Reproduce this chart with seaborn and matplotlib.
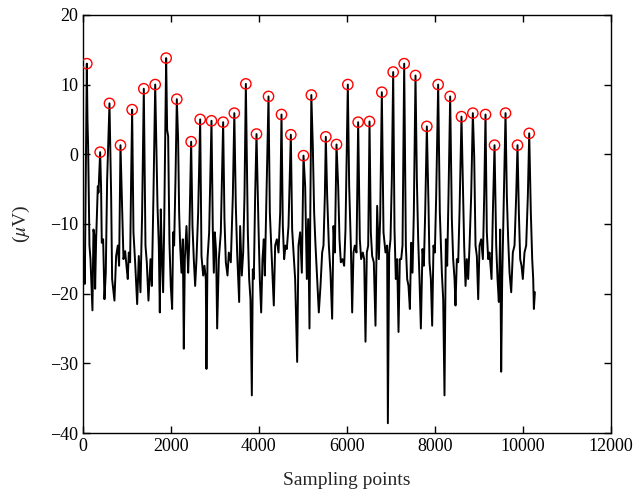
import numpy as np
import pandas as pd
import matplotlib
matplotlib.use("Agg")
import matplotlib.pyplot as plt
import seaborn as sns

# Detected R-peaks (sampling point, value in µV)
peak_x = [91, 394, 606, 856, 1121, 1386, 1645, 1894, 2136, 2462, 2667, 2924, 3189, 3443,
          3705, 3947, 4220, 4515, 4727, 5015, 5193, 5522, 5765, 6022, 6257, 6515, 6795,
          7053, 7303, 7560, 7818, 8075, 8348, 8605, 8863, 9151, 9356, 9606, 9878, 10144]
peak_y = [13.0, 0.3, 7.3, 1.3, 6.4, 9.4, 10.0, 13.8, 7.9, 1.8, 5.0, 4.8, 4.6, 5.9,
          10.1, 2.9, 8.3, 5.7, 2.8, -0.2, 8.5, 2.5, 1.4, 10.0, 4.6, 4.7, 8.9,
          11.8, 13.0, 11.3, 4.0, 10.0, 8.3, 5.4, 5.9, 5.7, 1.3, 5.9, 1.3, 3.0]

# Signal trace between peaks (sampling point, value in µV)
trace_x = [0, 15, 30, 45, 68, 106, 121, 151, 174, 219, 242, 265, 280, 303, 341, 356,
           416, 431, 462, 492, 522, 553, 644, 666, 719, 757, 795, 825,
           886, 924, 962, 992, 1022, 1045, 1075, 1098, 1151, 1189, 1235, 1272, 1310, 1348,
           1424, 1454, 1492, 1538, 1568, 1605,
           1697, 1727, 1750, 1772, 1795, 1825, 1848, 1916, 1939, 1969, 1999, 2030, 2053, 2075, 2106,
           2166, 2189, 2212, 2242, 2272, 2295, 2318, 2356, 2394, 2416,
           2492, 2522, 2553, 2583, 2621, 2697, 2735, 2765, 2795, 2810, 2833, 2871,
           2954, 2977, 3000, 3030, 3053, 3091, 3136, 3219, 3250, 3288, 3318, 3363, 3409,
           3477, 3507, 3553, 3575, 3613, 3644, 3674, 3750, 3780, 3810, 3841, 3863, 3886, 3916,
           3992, 4022, 4053, 4083, 4113, 4136, 4174, 4250, 4295, 4340, 4371, 4409, 4447, 4485,
           4545, 4575, 4606, 4636, 4674, 4757, 4788, 4825, 4871, 4901, 4939, 4977,
           5053, 5091, 5121, 5151, 5170,
           5227, 5257, 5288, 5325, 5363, 5401, 5439, 5469, 5500, 5553, 5591, 5628, 5666, 5697, 5727,
           5803, 5833, 5863, 5901, 5939, 5969, 6053, 6091, 6121, 6151, 6181, 6219,
           6295, 6325, 6363, 6394, 6424, 6454, 6485, 6545, 6575, 6613, 6651, 6689, 6727, 6757,
           6833, 6878, 6916, 6932, 6962, 6992, 7022,
           7083, 7113, 7144, 7174, 7204, 7235, 7265, 7341, 7371, 7401, 7432, 7462, 7492, 7522,
           7591, 7621, 7651, 7682, 7719, 7750, 7780, 7856, 7878, 7909, 7939, 7969, 8000, 8030,
           8113, 8159, 8189, 8219, 8250, 8280, 8310, 8386, 8416, 8447, 8469, 8500, 8530, 8560,
           8666, 8697, 8727, 8757, 8788, 8825, 8894, 8924, 8954, 8985, 9015, 9053, 9091, 9121,
           9181, 9212, 9242, 9288, 9318, 9394, 9424, 9454, 9485, 9507, 9530, 9560,
           9636, 9666, 9697, 9735, 9772, 9810, 9848, 9909, 9939, 9969, 9999, 10037, 10075, 10113,
           10181, 10212, 10235, 10250, 10273]
trace_y = [-14.1, -17.9, -14.6, -18.6, -3.6, 4.95, 1.1, -13.1, -15.05, -22.4, -10.8, -11.7, -19.3, -12.2, -4.6, -5.5,
           -5.05, -12.7, -12.2, -20.8, -17.0, -3.6, -6.0, -17.9, -21.0, -14.6, -13.1, -16.0,
           -6.0, -15.05, -13.9, -16.0, -17.9, -14.1, -15.5, -3.6, -11.2, -15.5, -21.5, -14.6, -19.8, -8.4,
           -13.1, -15.5, -21.0, -15.05, -18.9, -6.0,
           -7.4, -13.1, -22.7, -7.9, -14.1, -19.8, -10.8, 3.5, 2.6, -12.7, -18.9, -22.2, -11.2, -13.1, -3.6,
           2.1, -8.4, -13.1, -17.0, -12.2, -27.9, -15.05, -10.3, -17.0, -13.1,
           -10.3, -15.05, -18.9, -15.05, -8.4, -14.6, -17.4, -16.0, -17.9, -30.8, -15.05, -11.2,
           -10.8, -17.0, -11.2, -14.1, -25.0, -15.05, -11.2, -9.3, -15.5, -17.4, -14.1, -15.5, -6.0,
           -7.4, -14.1, -21.2, -10.3, -17.4, -14.1, -6.0, -11.2, -17.9, -20.8, -34.6, -16.5, -17.9, -6.0,
           -10.3, -17.9, -22.7, -15.05, -12.2, -17.4, -6.0, -8.4, -15.05, -21.7, -13.1, -12.2, -14.1, -8.4,
           -10.3, -15.05, -13.1, -13.6, -10.3, -10.8, -14.1, -17.9, -29.8, -13.1, -11.2, -17.0,
           -4.6, -17.9, -9.3, -25.0, -8.0,
           1.1, -8.4, -13.1, -17.9, -22.7, -18.9, -14.1, -13.1, -6.0, -6.0, -13.1, -17.0, -23.6, -10.3, -14.1,
           -4.6, -12.2, -15.5, -15.05, -16.0, -10.8, -4.6, -13.1, -22.7, -14.1, -13.1, -14.1,
           -12.2, -15.05, -14.1, -15.05, -26.9, -14.1, -13.1, -11.2, -14.6, -15.5, -24.6, -7.4, -15.05, -9.3,
           -11.2, -14.1, -13.1, -38.6, -14.1, -12.2, -3.6,
           -10.8, -17.9, -15.05, -25.5, -15.05, -15.05, -13.1, -13.1, -17.9, -18.9, -22.2, -12.7, -17.0, -8.4,
           -3.6, -12.2, -17.9, -25.0, -13.6, -16.0, -8.4, -7.4, -15.5, -17.9, -24.6, -13.1, -14.1, -6.0,
           -8.4, -17.0, -20.8, -34.6, -12.2, -16.0, -6.0, -9.3, -15.05, -17.9, -21.7, -15.05, -15.5, -8.4,
           -13.1, -18.9, -15.05, -17.9, -13.1, -6.0, -0.3, -13.1, -14.6, -20.8, -13.1, -12.2, -15.05, -6.0,
           -11.2, -15.05, -14.1, -17.9, -8.4, -13.1, -17.9, -21.2, -10.8, -31.2, -17.9, -8.4,
           -6.0, -12.2, -17.0, -19.8, -14.1, -13.1, -6.0, -8.4, -15.05, -16.0, -17.9, -14.1, -13.1, -6.0,
           -8.4, -15.05, -17.9, -22.2, -19.8]

sig = pd.concat([pd.DataFrame({"x": trace_x, "y": trace_y}),
                 pd.DataFrame({"x": peak_x, "y": peak_y})]).sort_values("x").reset_index(drop=True)
peaks = pd.DataFrame({"x": peak_x, "y": peak_y})

sns.set_theme(style="ticks")
plt.rcParams["font.family"] = ["Liberation Serif", "DejaVu Serif"]
plt.rcParams["mathtext.fontset"] = "stix"

fig = plt.figure(figsize=(6.37, 4.96), dpi=100)
ax = fig.add_axes([0.130, 0.127, 0.829, 0.843])

sns.lineplot(data=sig, x="x", y="y", sort=False, estimator=None, color="black",
             linewidth=1.4, ax=ax)
sns.scatterplot(data=peaks, x="x", y="y", marker="o", s=55, facecolors="none",
                edgecolor="red", linewidth=1.0, ax=ax, zorder=3)

ax.set_xlim(0, 12000)
ax.set_ylim(-40, 20)
ax.set_xticks(np.arange(0, 12001, 2000))
ax.set_yticks(np.arange(-40, 21, 10))
ax.tick_params(direction="in", top=True, right=True, length=5, width=1,
               labelsize=13, colors="black")
for s in ax.spines.values():
    s.set_linewidth(1.0)
    s.set_color("black")
ax.set_xlabel("Sampling points", fontsize=14, labelpad=12)
ax.set_ylabel(r"($\mu$V)", fontsize=14, labelpad=13)

fig.savefig("out.png", dpi=100)
